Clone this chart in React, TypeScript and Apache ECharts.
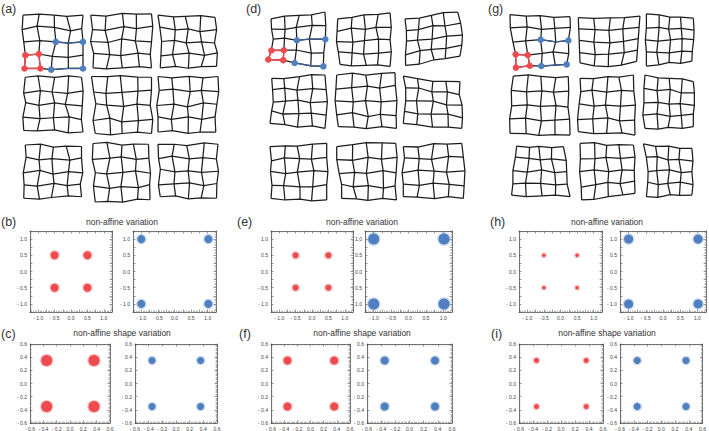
import React, { useEffect, useRef } from "react";
import * as echarts from "echarts";

// ---------- DATA ----------
// Mesh corners (TL, TR, BR, BL) in cell units, nominal square is 0..4
const panelACorners = [
  [[0, 0.1], [4, 0.1], [4, 3.95], [0.1, 3.95]],
  [[0.05, 0.1], [4.1, 0], [4.1, 3.9], [0.2, 3.9]],
  [[0, 0.1], [3.8, 0.25], [3.9, 3.8], [0.15, 3.9]],
  [[0.15, 0.15], [3.9, 0.15], [4, 3.8], [0.05, 3.7]],
  [[0.1, 0.1], [4.1, 0.15], [4.1, 3.9], [0.35, 3.9]],
  [[0, 0.1], [4, 0.1], [3.85, 3.8], [0, 3.8]],
  [[0.15, 0.2], [3.9, 0.3], [3.9, 3.65], [0.05, 3.75]],
  [[0.2, 0.1], [3.9, 0.15], [4, 3.85], [0.35, 4]],
  [[0, 0.15], [4, 0.15], [3.9, 3.75], [0.15, 3.65]],
];
const panelDCorners = [
  [[0.07, 0.46], [3.79, -0.07], [3.68, 4.14], [-0.12, 3.61]],
  [[0.05, 0.46], [3.66, 0], [3.66, 4.14], [0.21, 3.98]],
  [[0.14, 0.46], [3.77, -0.07], [3.93, 3.35], [0.18, 4.07]],
  [[0.12, 0.23], [3.79, 0], [3.79, 3.68], [0, 3.33]],
  [[-0.02, 0], [4.0, -0.16], [4.1, 3.68], [0.09, 3.56]],
  [[0.02, 0.07], [3.93, 0.46], [4.05, 3.68], [0.02, 3.33]],
  [[0, 0.25], [3.91, 0.02], [3.91, 3.93], [0.07, 3.82]],
  [[-0.02, 0.25], [4.05, 0.02], [4.1, 3.93], [0.32, 3.82]],
  [[0.02, 0.25], [4.05, 0.02], [4.16, 3.82], [0.02, 3.7]],
];
const panelGCorners = [
  [[0, 0.07], [4.14, 0.23], [3.91, 3.74], [0.41, 3.98]],
  [[0.09, 0.3], [4.34, 0.18], [4.11, 3.52], [0.21, 3.63]],
  [[0.09, 0.02], [3.77, 0.34], [3.66, 3.5], [0.09, 3.86]],
  [[0.23, 0.07], [4.02, 0.11], [4.14, 4.14], [0, 4.02]],
  [[0.21, 0.23], [3.89, 0], [4.0, 4.14], [0.09, 3.91]],
  [[-0.02, 0], [3.77, 0.46], [3.77, 3.56], [-0.02, 3.68]],
  [[0.46, 0.07], [3.68, 0.11], [4.14, 3.56], [0.11, 3.45]],
  [[0.21, -0.11], [3.89, 0], [4.0, 3.33], [0.32, 3.79]],
  [[-0.14, -0.07], [3.66, 0.23], [3.66, 3.45], [0.09, 3.56]],
];
// Node displacements (dx dy per node, row-major, twelfths of a cell)
const panelAJitter = [
  "0 0 1 -1 1 0 -1 1 0 0  -1 1 -1 -2 1 -1 2 2 -1 0  0 0 1 -1 2 0 0 1 0 0  1 0 0 -1 -1 1 0 2 0 0  0 0 1 0 -2 1 0 0 0 0",
  "0 0 0 1 1 -1 0 0 0 0  1 1 -1 2 2 -1 0 1 1 -1  -1 0 1 1 0 -2 -1 0 0 1  1 -1 2 0 -1 1 1 -1 -1 0  0 0 -1 1 0 0 2 -1 0 0",
  "0 0 1 1 -1 0 0 -1 0 0  1 -1 2 1 1 0 -1 2 1 0  2 0 1 -1 -1 1 0 0 -1 1  1 1 -1 0 1 -1 2 1 1 -1  0 0 1 -1 0 1 -1 0 0 0",
  "0 0 -1 -1 1 0 1 -1 0 0  -1 2 1 0 -1 1 0 2 1 0  1 -1 0 1 1 -1 -2 0 0 1  -1 0 1 1 0 0 1 -1 -1 1  0 0 -1 0 1 -1 0 1 0 0",
  "0 0 1 0 -1 -1 1 0 0 0  1 1 -1 2 0 1 1 0 0 -1  2 -1 -1 0 1 1 0 -1 -1 0  -1 1 1 -1 -1 2 1 1 1 0  0 0 1 1 -1 0 0 -1 0 0",
  "0 0 -1 1 1 0 0 1 0 0  1 0 0 -1 2 1 -1 0 1 1  -1 1 1 0 0 2 1 -1 0 0  0 -1 -1 1 1 -1 0 1 -1 -1  0 0 0 -1 1 1 -1 0 0 0",
  "0 0 1 -1 0 1 -1 0 0 0  1 -1 0 1 -1 0 2 1 0 -1  -1 1 1 -1 0 2 1 0 1 1  0 0 -1 1 1 -1 0 1 -1 0  0 0 1 1 -1 0 1 -1 0 0",
  "0 0 0 -1 1 1 -1 0 0 0  -1 1 2 0 0 -1 1 1 0 0  1 0 -1 1 1 0 0 -1 1 1  -1 -1 1 1 -1 0 2 1 0 -1  0 0 -1 0 0 1 1 -1 0 0",
  "0 0 1 0 -1 1 1 -1 0 0  0 1 -1 -1 1 1 0 0 -1 1  1 -1 1 1 0 0 -1 1 1 0  -1 1 0 0 1 -1 1 1 0 -1  0 0 1 -1 0 1 -1 0 0 0",
];
const panelDJitter = [
  "0 0 0 -1 1 0 0 1 0 0  1 0 1 1 -1 0 1 -1 1 0  3 0 1 -1 0 1 -1 0 1 0  2 1 1 0 0 -1 1 1 0 0  0 0 1 -1 -1 0 1 1 0 0",
  "0 0 1 0 0 -1 1 0 0 0  -1 1 0 -1 1 1 -1 0 1 1  -2 0 1 1 0 0 1 -1 0 0  -1 -1 0 0 -1 1 1 0 1 -1  0 0 -1 1 1 0 0 -1 0 0",
  "0 0 1 1 0 0 -1 -1 0 0  1 0 0 1 1 -1 0 1 2 0  1 -1 -1 0 0 1 1 0 3 1  0 1 1 -1 -1 0 0 1 2 0  0 0 0 1 1 -1 -1 0 0 0",
  "0 0 -1 1 1 0 0 -1 0 0  1 0 0 -1 -1 1 1 0 1 1  2 1 1 0 0 -1 -1 1 2 0  1 -1 -1 1 1 0 0 -1 1 0  0 0 1 0 0 1 1 -1 0 0",
  "0 0 1 -1 0 1 1 0 0 0  -1 1 0 0 1 -1 -1 1 0 -1  -2 0 1 1 -1 0 0 1 1 0  -1 1 0 -1 1 2 -1 0 0 1  0 0 1 0 -1 1 0 -1 0 0",
  "0 0 0 1 1 2 0 1 0 0  2 0 1 -1 0 1 1 0 -1 1  2 1 -1 0 1 -1 0 1 1 0  1 0 0 1 -1 0 1 -1 1 1  0 0 -1 0 0 1 1 0 0 0",
  "0 0 1 0 -1 1 0 0 0 0  1 1 0 -1 1 0 -1 1 0 0  0 -1 1 1 -1 0 1 -1 1 0  1 0 -1 0 1 1 0 1 0 -1  0 0 0 1 1 0 -1 1 0 0",
  "0 0 1 -1 0 -2 1 -1 0 0  -1 0 0 1 1 -1 0 1 1 0  0 1 1 0 -1 1 1 -1 0 1  1 -1 -1 1 0 0 1 2 -1 0  0 0 1 0 -1 1 0 -1 0 0",
  "0 0 0 1 1 -1 0 0 0 0  1 -1 1 0 -1 1 1 -1 1 0  -1 1 0 -1 1 0 -1 1 2 0  0 0 1 1 0 -1 1 0 1 1  0 0 -1 0 1 1 0 -1 0 0",
];
const panelGJitter = [
  "0 0 1 1 0 0 -1 1 0 0  -1 0 1 -1 1 1 0 0 1 -1  0 1 -1 0 0 -1 1 1 0 0  1 0 0 1 1 0 -1 -1 1 1  0 0 1 -1 0 0 1 0 0 0",
  "0 0 0 1 1 1 0 1 0 0  0 0 1 1 0 2 -1 1 0 0  0 0 0 2 1 3 0 2 0 0  0 1 1 3 0 3 1 2 0 0  0 0 0 3 0 4 -1 3 0 0",
  "0 0 1 0 0 1 -1 0 0 0  0 1 1 0 -1 1 0 0 1 1  -1 0 0 1 1 0 1 -1 1 0  0 -1 -1 0 0 1 1 0 0 1  0 0 1 0 0 -1 0 1 0 0",
  "0 0 1 -1 0 0 1 1 0 0  -1 0 0 1 1 0 -1 1 0 0  0 1 1 0 0 1 1 0 -1 1  -1 0 0 -1 1 1 0 0 0 -1  0 0 1 0 -1 1 0 0 0 0",
  "0 0 0 1 1 0 -1 1 0 0  1 0 -1 -1 0 1 1 0 0 1  0 -1 1 1 -1 0 0 1 1 0  -1 1 0 0 1 -1 -1 1 0 0  0 0 1 1 0 0 1 -1 0 0",
  "0 0 1 1 0 0 1 -1 0 0  -1 0 0 1 1 -1 0 1 1 0  -1 1 1 0 0 1 -1 0 1 1  -2 0 0 -1 1 1 0 0 0 -1  0 0 1 1 -1 0 1 1 0 0",
  "0 0 1 1 -1 0 0 1 0 0  0 -1 1 0 0 1 -1 0 1 1  -1 0 0 1 1 -1 1 1 0 0  0 1 -1 0 0 0 1 1 -1 0  0 0 0 1 1 0 0 -1 0 0",
  "0 0 1 -1 0 1 -1 0 0 0  0 1 1 1 -1 0 0 1 1 0  -1 0 0 -1 1 1 1 0 0 1  0 1 1 0 0 -1 -1 1 0 0  0 0 -1 1 0 0 1 0 0 0",
  "0 0 0 1 1 0 0 1 0 0  2 0 1 -1 0 1 -1 0 1 1  3 1 0 0 1 -1 1 1 0 0  2 -1 1 1 -1 0 0 -1 1 1  0 0 0 1 1 -1 -1 0 0 0",
];
// mesh nodes highlighted in the first mesh of each panel (col, row)
const redNodes = [[0, 3], [1, 3], [0, 4], [1, 4]];
const blueNodes = [[2, 2], [4, 2], [2, 4], [4, 4]];

// scatter cluster centres
const varRedCenters = [[-0.5, 0.5], [0.5, 0.5], [-0.5, -0.5], [0.5, -0.5]];
const varBlueCenters = [[-1.0, 1.0], [1.02, 1.0], [-1.0, -1.0], [1.02, -1.0]];
const shapeRedCenters = [[-0.35, 0.35], [0.36, 0.35], [-0.35, -0.35], [0.36, -0.35]];
const shapeBlueCenters = [[-0.35, 0.35], [0.36, 0.35], [-0.35, -0.35], [0.36, -0.35]];

const panelLabels = ["(a)", "(d)", "(g)"];
const varLabels = ["(b)", "(e)", "(h)"];
const shapeLabels = ["(c)", "(f)", "(i)"];
const varTitle = "non-affine variation";
const shapeTitle = "non-affine shape variation";

// ---------- LAYOUT / STYLE ----------
const RED = "#ef4a4e";
const BLUE = "#4f7fc0";
const JIT_DIV = 12;
const meshLayout = [
  { xs: [23, 90, 158], ys: [8, 75, 142], cell: 15, corners: panelACorners, jit: panelAJitter, labelX: 1 },
  { xs: [270, 337, 403], ys: [5, 75, 143], cell: 14.5, corners: panelDCorners, jit: panelDJitter, labelX: 246 },
  { xs: [510, 577, 647], ys: [9, 75, 145], cell: 14.5, corners: panelGCorners, jit: panelGJitter, labelX: 488 },
];
const scatterLayout = [
  { var: [[30, 82], [133, 83]], shape: [[30, 80], [135, 82]], redSize: [8, 11], blueSize: [8, 7], label: [1, 1], titleX: 122 },
  { var: [[271, 82], [365, 87]], shape: [[271, 79], [367, 85]], redSize: [6, 8], blueSize: [11, 8], label: [237, 239], titleX: 362 },
  { var: [[519, 83], [620, 87]], shape: [[519, 84], [620, 87]], redSize: [3.5, 5], blueSize: [9, 7], label: [490, 491], titleX: 607 },
];
const varRow = { top: 231, h: 81 };
const shapeRow = { top: 344, h: 80 };

function parseJ(s: string) {
  return s.trim().split(/\s+/).map(Number);
}

function meshNodes(corners: number[][], jit: number[]) {
  const [tl, tr, br, bl] = corners;
  const nodes: number[][][] = [];
  for (let r = 0; r < 5; r++) {
    const row: number[][] = [];
    for (let c = 0; c < 5; c++) {
      const u = c / 4, v = r / 4;
      const k = (r * 5 + c) * 2;
      const x = (1 - u) * (1 - v) * tl[0] + u * (1 - v) * tr[0] + u * v * br[0] + (1 - u) * v * bl[0] + jit[k] / JIT_DIV;
      const y = (1 - u) * (1 - v) * tl[1] + u * (1 - v) * tr[1] + u * v * br[1] + (1 - u) * v * bl[1] + jit[k + 1] / JIT_DIV;
      row.push([x, y]);
    }
    nodes.push(row);
  }
  return nodes;
}

function fmtTick(v: number, step: number) {
  const q = v / step;
  if (Math.abs(q - Math.round(q)) > 1e-6) return "";
  const a = Math.abs(v).toFixed(1);
  if (Math.abs(v) < 1e-9) return "0.0";
  return v < 0 ? "- " + a : a;
}

function buildOption() {
  const grid: any[] = [];
  const xAxis: any[] = [];
  const yAxis: any[] = [];
  const series: any[] = [];
  const graphic: any[] = [];

  meshLayout.forEach((p, pi) => {
    for (let m = 0; m < 9; m++) {
      const gx = p.xs[m % 3], gy = p.ys[Math.floor(m / 3)];
      const gi = grid.length;
      grid.push({ left: gx - p.cell, top: gy - p.cell, width: p.cell * 6, height: p.cell * 6 });
      xAxis.push({ gridIndex: gi, type: "value", min: -1, max: 5, show: false });
      const yi = yAxis.length;
      yAxis.push({ gridIndex: gi, type: "value", min: -1, max: 5, inverse: true, show: false });
      const xi = xAxis.length - 1;
      const nodes = meshNodes(p.corners[m], parseJ(p.jit[m]));
      const data: any[] = [];
      for (let r = 0; r < 5; r++) data.push({ coords: nodes[r] });
      for (let c = 0; c < 5; c++) data.push({ coords: nodes.map((row) => row[c]) });
      series.push({
        type: "lines", coordinateSystem: "cartesian2d", xAxisIndex: xi, yAxisIndex: yi,
        polyline: true, silent: true, data,
        lineStyle: { color: "#1c1c1c", width: 1.25, opacity: 1 }, z: 2,
      });
      if (m === 0) {
        const n = (c: number, r: number) => nodes[r][c];
        series.push({
          type: "lines", coordinateSystem: "cartesian2d", xAxisIndex: xi, yAxisIndex: yi,
          polyline: true, silent: true,
          data: [{ coords: [n(0, 3), n(1, 3), n(1, 4), n(0, 4), n(0, 3)] }],
          lineStyle: { color: RED, width: 1.4, opacity: 1 }, z: 3,
        });
        series.push({
          type: "lines", coordinateSystem: "cartesian2d", xAxisIndex: xi, yAxisIndex: yi,
          polyline: true, silent: true,
          data: [{ coords: [n(2, 2), n(3, 2), n(4, 2)] }, { coords: [n(2, 4), n(3, 4), n(4, 4)] }],
          lineStyle: { color: "#3d5f94", width: 1.3, opacity: 1 }, z: 3,
        });
        series.push({
          type: "scatter", xAxisIndex: xi, yAxisIndex: yi, silent: true, symbolSize: 6.5,
          data: redNodes.map(([c, r]) => n(c, r)), itemStyle: { color: RED, opacity: 1 }, z: 4,
        });
        series.push({
          type: "scatter", xAxisIndex: xi, yAxisIndex: yi, silent: true, symbolSize: 6.5,
          data: blueNodes.map(([c, r]) => n(c, r)), itemStyle: { color: BLUE, opacity: 1 }, z: 4,
        });
      }
    }
    graphic.push({
      type: "text", left: p.labelX, top: 2,
      style: { text: panelLabels[pi], font: "12.5px 'Liberation Sans'", fill: "#333" },
    });
  });

  const makeBox = (left: number, width: number, top: number, height: number, lim: number, step: number, labelStep: number, minorSplit: number, centers: number[][], color: string, size: number) => {
    const gi = grid.length;
    grid.push({ left, top, width, height });
    const common = {
      gridIndex: gi, type: "value", min: -lim, max: lim, interval: step,
      splitLine: { show: false },
      axisLine: { show: true, onZero: false, lineStyle: { color: "#555", width: 0.8 } },
      axisTick: { show: true, inside: true, length: 2.5, lineStyle: { color: "#555", width: 0.6 } },
      minorTick: { show: true, splitNumber: minorSplit, length: 1.3, lineStyle: { color: "#666", width: 0.5 } },
    };
    const lbl = {
      show: true, fontSize: 5, color: "#444", fontFamily: "Liberation Sans", margin: 3,
      showMinLabel: true, showMaxLabel: true,
      formatter: (v: number) => fmtTick(v, labelStep),
    };
    const xb = xAxis.length;
    xAxis.push({ ...common, position: "bottom", axisLabel: lbl });
    xAxis.push({ ...common, position: "top", axisLabel: { show: false } });
    const yl = yAxis.length;
    yAxis.push({ ...common, position: "left", axisLabel: lbl });
    yAxis.push({ ...common, position: "right", axisLabel: { show: false } });
    series.push({
      type: "scatter", xAxisIndex: xb, yAxisIndex: yl, silent: true, symbolSize: size + 2.5,
      data: centers, itemStyle: { color, opacity: 0.3 }, z: 3,
    });
    series.push({
      type: "scatter", xAxisIndex: xb, yAxisIndex: yl, silent: true, symbolSize: size,
      data: centers, itemStyle: { color, opacity: 1 }, z: 4,
    });
  };

  scatterLayout.forEach((s, i) => {
    makeBox(s.var[0][0], s.var[0][1], varRow.top, varRow.h, 1.25, 0.25, 0.5, 5, varRedCenters, RED, s.redSize[0]);
    makeBox(s.var[1][0], s.var[1][1], varRow.top, varRow.h, 1.25, 0.25, 0.5, 5, varBlueCenters, BLUE, s.blueSize[0]);
    makeBox(s.shape[0][0], s.shape[0][1], shapeRow.top, shapeRow.h, 0.6, 0.2, 0.2, 10, shapeRedCenters, RED, s.redSize[1]);
    makeBox(s.shape[1][0], s.shape[1][1], shapeRow.top, shapeRow.h, 0.6, 0.2, 0.2, 10, shapeBlueCenters, BLUE, s.blueSize[1]);
    graphic.push({
      type: "text", left: s.label[0], top: 215,
      style: { text: varLabels[i], font: "12.5px 'Liberation Sans'", fill: "#333" },
    });
    graphic.push({
      type: "text", left: s.label[1], top: 327,
      style: { text: shapeLabels[i], font: "12.5px 'Liberation Sans'", fill: "#333" },
    });
    graphic.push({
      type: "text", x: s.titleX, y: 222,
      style: { text: varTitle, font: "8.5px 'Liberation Sans'", fill: "#333", align: "center", verticalAlign: "middle" },
    });
    graphic.push({
      type: "text", x: s.titleX, y: 333,
      style: { text: shapeTitle, font: "8.5px 'Liberation Sans'", fill: "#333", align: "center", verticalAlign: "middle" },
    });
  });

  return { animation: false, backgroundColor: "#fff", grid, xAxis, yAxis, series, graphic };
}

export default function App() {
  const ref = useRef<HTMLDivElement>(null);
  useEffect(() => {
    document.body.style.margin = "0";
    const chart = echarts.init(ref.current!, null, { renderer: "svg" });
    chart.setOption(buildOption());
    return () => chart.dispose();
  }, []);
  return <div ref={ref} style={{ width: 709, height: 431, background: "#fff" }} />;
}
